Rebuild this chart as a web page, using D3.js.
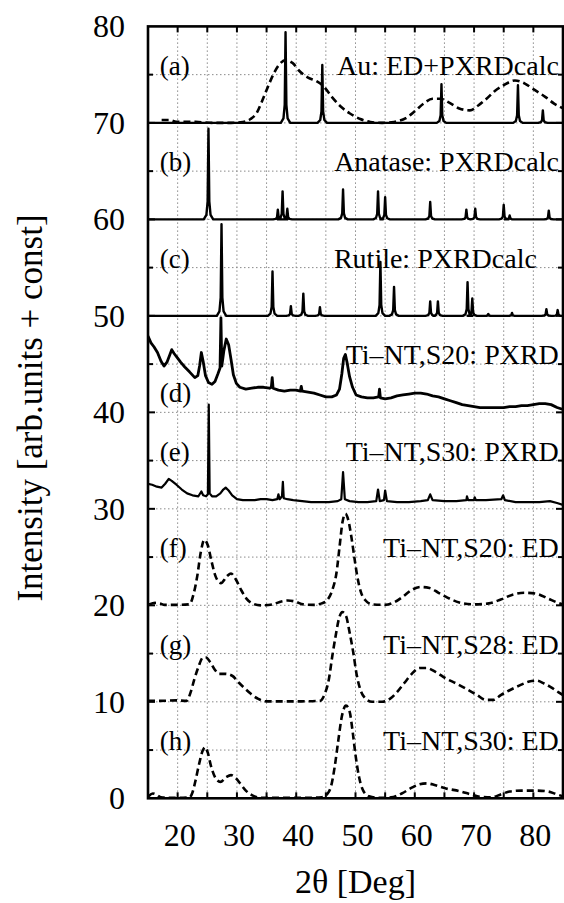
<!DOCTYPE html>
<html><head><meta charset="utf-8">
<script src="https://cdn.jsdelivr.net/npm/d3@7/dist/d3.min.js"></script>
<style>body{margin:0;background:#fff}svg{display:block}text{font-family:"Liberation Serif","Times New Roman",serif;fill:#000}</style>
</head><body>
<script>
// ---- data ----
const xTickLabels = [20, 30, 40, 50, 60, 70, 80];
const yTickLabels = [0, 10, 20, 30, 40, 50, 60, 70, 80];
const xGrid = [20,25,30,35,40,45,50,55,60,65,70,75,80];
const yGrid = [5,10,15,20,25,30,35,40,45,50,55,60,65,70,75];

const auCalcBase = 70;
const auCalcPeaks = [[38.2,9.4],[44.4,6.0],[64.5,4.0],[77.4,3.9],[81.6,1.3]];
const anataseBase = 60;
const anatasePeaks = [[25.2,9.4],[36.9,1.0],[37.7,2.9],[38.5,1.1],[47.9,3.1],[53.8,2.9],[55.0,2.3],[62.6,1.8],[68.7,1.0],[70.2,1.1],[75.0,1.5],[76.0,0.4],[82.6,0.9]];
const rutileBase = 50;
const rutilePeaks = [[27.4,9.5],[36.0,4.6],[39.1,1.0],[41.2,2.3],[44.0,0.9],[54.2,5.6],[56.5,3.0],[62.6,1.5],[63.9,1.5],[68.9,3.5],[69.7,1.8],[72.4,0.2],[76.4,0.3],[82.2,0.7],[84.1,0.6]];

const auED = [[17.3,70.3],[18.5,70.3],[20,70.1],[23,70.1],[26,70.0],[29,70.0],[31,70.1],[32.3,70.4],[33.3,71.0],[34.2,72.2],[35.2,73.7],[36.2,75.1],[37.2,76.1],[38.3,76.5],[39.4,76.2],[40.5,75.4],[42.0,74.7],[43.5,74.3],[44.6,73.8],[46,72.7],[47.5,71.7],[49,71.0],[50.8,70.4],[52.5,70.1],[54.5,70.0],[56.5,70.1],[58.5,70.5],[60,71.2],[61.5,72.0],[63,72.5],[64.3,72.5],[65.8,72.1],[67.5,71.5],[69.3,71.3],[70.7,71.8],[72.1,72.5],[73.5,73.3],[75,73.9],[76.9,74.4],[78.5,74.1],[80,73.5],[82,72.7],[83.5,72.0],[85,71.5]];

const s20PXRD = [[15,47.9],[15.5,47.2],[16,46.8],[16.6,46.2],[17.2,45.3],[17.7,44.8],[18.2,45.2],[18.7,46.0],[19.0,46.5],[19.4,46.1],[19.9,45.7],[20.5,45.2],[21.2,44.7],[22.0,44.2],[22.9,43.6],[23.4,43.8],[23.7,44.8],[24.0,46.2],[24.3,45.3],[24.7,43.8],[25.2,43.1],[25.8,42.9],[26.3,43.2],[26.8,44.0],[27.15,44.6],[27.3,49.8],[27.45,44.8],[27.8,46.4],[28.2,47.6],[28.6,47.0],[29.0,45.5],[29.4,43.9],[29.9,43.0],[30.5,42.6],[31.5,42.4],[32.5,42.5],[33.5,42.6],[34.5,42.6],[35.5,42.5],[35.8,42.6],[35.95,43.6],[36.1,42.5],[37,42.3],[38,42.2],[39,42.3],[40,42.3],[40.7,42.2],[40.85,42.7],[41,42.2],[42,42.1],[43,42.0],[44,41.8],[45,41.6],[46,41.6],[46.8,41.8],[47.3,42.4],[47.7,44.0],[48.0,45.6],[48.3,46.0],[48.6,45.1],[49.0,43.7],[49.5,42.6],[50.1,41.8],[51,41.6],[52,41.5],[53,41.5],[53.9,41.6],[54.05,42.4],[54.2,41.5],[55,41.4],[56,41.5],[57,41.7],[58,41.8],[59,41.9],[60,42.0],[61,42.0],[62,41.9],[63,41.7],[64,41.6],[65,41.4],[66,41.2],[67,41.0],[68,40.8],[69,40.7],[70,40.6],[71,40.5],[72,40.5],[73,40.5],[74,40.5],[75,40.5],[76,40.6],[77,40.6],[78,40.7],[79,40.7],[80,40.8],[81,40.9],[82,40.9],[83,40.8],[84,40.5],[85,40.3]];

const s30PXRD = [[15,32.6],[15.7,32.5],[16.5,32.3],[17.3,32.2],[17.9,32.6],[18.5,33.1],[19.0,32.9],[19.8,32.5],[20.7,32.0],[21.6,31.6],[22.5,31.4],[23.5,31.3],[24.0,31.8],[24.3,31.4],[24.8,31.3],[25.1,31.5],[25.25,40.8],[25.4,31.6],[25.8,31.3],[26.5,31.3],[27.2,31.6],[27.7,32.0],[28.1,32.2],[28.6,31.9],[29.2,31.4],[30,31.0],[31,30.9],[32,30.9],[33,30.9],[34,31.0],[35,31.0],[36,30.9],[36.8,31.0],[37.0,31.5],[37.2,31.0],[37.6,31.3],[37.75,32.8],[37.9,31.1],[38.5,31.0],[39.5,30.9],[41,30.8],[42.5,30.7],[44,30.7],[45.5,30.7],[47,30.8],[47.6,31.0],[47.9,33.8],[48.2,31.0],[49,30.8],[50.5,30.7],[52,30.7],[53.5,30.8],[53.8,32.0],[54.1,30.8],[54.8,30.9],[55.0,31.9],[55.3,30.8],[57,30.7],[59,30.7],[61,30.8],[62.2,30.9],[62.6,31.5],[63,30.9],[65,30.8],[67,30.8],[68.7,30.9],[68.8,31.3],[69,30.9],[70,30.9],[70.1,31.2],[70.3,30.9],[72,30.9],[74.6,31.0],[74.9,31.4],[75.2,30.9],[77,30.7],[79,30.7],[81,30.7],[82.8,30.8],[84,30.6],[85,30.4]];

const s20ED = [[15.2,20.1],[16.2,20.25],[17,20.2],[17.8,20.05],[20,20.05],[22,20.1],[22.7,21.2],[23.3,23.0],[23.9,25.5],[24.5,26.8],[25.1,26.2],[25.7,24.6],[26.4,23.0],[27.3,22.3],[28.3,23.0],[29.0,23.3],[29.8,22.7],[30.7,21.6],[31.6,20.7],[32.6,20.2],[34,20.0],[36,20.1],[37.5,20.4],[38.6,20.5],[39.8,20.4],[41.2,20.1],[43,20.05],[44.3,20.2],[45.3,20.6],[46.1,21.6],[46.8,23.4],[47.3,26.0],[47.8,28.6],[48.3,29.5],[48.8,28.8],[49.3,27.1],[49.8,25.0],[50.3,23.0],[50.9,21.4],[51.7,20.5],[52.8,20.1],[55,20.05],[56.5,20.3],[58,20.9],[59.5,21.6],[61,21.9],[62.5,21.8],[64,21.3],[65.5,20.8],[67.5,20.3],[70,20.1],[72.5,20.2],[74.5,20.6],[76.5,21.1],[78.5,21.3],[80.5,21.2],[82.5,20.7],[84,20.3],[85,20.1]];

const s28ED = [[15,10.1],[17,10.1],[19.8,10.15],[21.5,10.1],[22.2,11.0],[22.8,12.3],[23.5,13.6],[24.3,14.6],[24.8,14.6],[25.5,14.1],[26.3,13.3],[27,12.9],[28,12.9],[29.2,12.7],[30.3,12.0],[31.3,11.4],[32.4,10.8],[33.6,10.3],[35,10.05],[38,10.05],[41,10.05],[44,10.1],[44.8,10.8],[45.5,12.3],[46.1,14.8],[46.7,17.0],[47.2,18.6],[47.8,19.3],[48.4,18.9],[49.0,17.2],[49.6,15.2],[50.2,12.8],[50.8,11.3],[51.6,10.4],[52.8,10.0],[54.5,10.0],[55.8,10.3],[57,11.0],[58.3,12.0],[59.5,12.9],[60.8,13.5],[62,13.5],[63.5,13.1],[65.3,12.4],[67,11.9],[68.8,11.3],[70.5,10.7],[72,10.2],[73.3,10.2],[74.5,10.7],[76,11.2],[77.7,11.7],[79.3,12.1],[80.5,12.2],[81.8,11.9],[83,11.5],[84.2,11.0],[85,10.7]];

const s30ED = [[15.1,0.2],[15.8,0.5],[16.5,0.35],[17.2,0.1],[19,0.05],[22,0.1],[22.5,0.6],[23.0,1.8],[23.6,3.5],[24.2,4.9],[24.6,5.3],[25.1,4.7],[25.6,3.4],[26.3,2.2],[27.2,1.7],[28.2,2.2],[29.0,2.4],[29.8,2.1],[30.6,1.5],[31.5,0.8],[32.6,0.3],[34,0.05],[38,0.05],[42,0.05],[44.3,0.1],[45.3,0.5],[45.9,1.3],[46.5,3.3],[47.1,6.0],[47.7,8.5],[48.4,9.6],[49.0,9.0],[49.5,7.0],[50.0,4.5],[50.6,2.2],[51.3,0.8],[52.3,0.2],[54,0.05],[56,0.1],[57.8,0.5],[59.5,1.1],[60.8,1.45],[62,1.55],[63.5,1.35],[65.4,1.0],[67.5,0.75],[69.5,0.4],[71,0.15],[73,0.1],[74.5,0.4],[76,0.7],[78,0.8],[80.5,0.8],[82.5,0.7],[84,0.4],[85,0.2]];

const seriesNames = ["Au: ED+PXRDcalc","Anatase: PXRDcalc","Rutile: PXRDcalc","Ti\u2013NT,S20: PXRD","Ti\u2013NT,S30: PXRD","Ti\u2013NT,S20: ED","Ti\u2013NT,S28: ED","Ti\u2013NT,S30: ED"];
const nameY = [75,65,55,45,35,25,15,5];
const nameX = [84.3,84.3,80.6,84.3,84.3,84.3,84.3,84.3];
const panelTags = ["(a)","(b)","(c)","(d)","(e)","(f)","(g)","(h)"];
const tagY = [75,65,55,41.1,35,25,15,5];
const tagX = 17.0;
const xTitle = "2\u03b8 [Deg]";
const yTitle = "Intensity [arb.units + const]";

// ---- layout ----
const W = 564, H = 903;
const L = 148, R = 563, T = 26.4, B = 798.3;
const x = d3.scaleLinear().domain([15, 85]).range([L, R]);
const y = d3.scaleLinear().domain([0, 80]).range([B, T]);

const svg = d3.select("body").append("svg").attr("width", W).attr("height", H);

// grid
const g = svg.append("g");
g.selectAll(".gx").data(xGrid).join("line")
  .attr("x1", d => x(d)).attr("x2", d => x(d)).attr("y1", T).attr("y2", B)
  .attr("stroke", "#8a8a8a").attr("stroke-width", 1).attr("stroke-dasharray", "1.5,2.5");
g.selectAll(".gy").data(yGrid).join("line")
  .attr("y1", d => y(d)).attr("y2", d => y(d)).attr("x1", L).attr("x2", R)
  .attr("stroke", "#8a8a8a").attr("stroke-width", 1).attr("stroke-dasharray", "1.5,2.5");

const plot = svg.append("g");
svg.append("clipPath").attr("id", "clip").append("rect")
  .attr("x", L).attr("y", T).attr("width", R - L).attr("height", B - T);
plot.attr("clip-path", "url(#clip)");

const line = d3.line().x(d => x(d[0])).y(d => y(d[1]));
const smooth = d3.line().x(d => x(d[0])).y(d => y(d[1])).curve(d3.curveMonotoneX);

function stickSeries(base, peaks) {
  const pts = [[15, base]];
  peaks.forEach(([p, h]) => {
    pts.push([p - 0.8, base], [p - 0.35, base + h * 0.05], [p - 0.14, base + h * 0.2], [p, base + h],
             [p + 0.14, base + h * 0.2], [p + 0.35, base + h * 0.05], [p + 0.8, base]);
  });
  pts.push([85, base]);
  return pts;
}

[[auCalcBase, auCalcPeaks], [anataseBase, anatasePeaks], [rutileBase, rutilePeaks]].forEach(([b, pk]) => {
  plot.append("path").attr("d", line(stickSeries(b, pk)))
    .attr("fill", "none").attr("stroke", "#000").attr("stroke-width", 2.4).attr("stroke-linejoin", "round");
});

[auED, s20ED, s28ED, s30ED].forEach(s => {
  plot.append("path").attr("d", smooth(s))
    .attr("fill", "none").attr("stroke", "#000").attr("stroke-width", 2.6).attr("stroke-dasharray", "7,4");
});

plot.append("path").attr("d", line(s20PXRD)).attr("fill", "none").attr("stroke", "#000")
  .attr("stroke-width", 2.8).attr("stroke-linejoin", "round");
plot.append("path").attr("d", line(s30PXRD)).attr("fill", "none").attr("stroke", "#000")
  .attr("stroke-width", 2.2).attr("stroke-linejoin", "round");

// frame and ticks
const tk = svg.append("g").attr("stroke", "#000").attr("stroke-width", 2);
xGrid.forEach(v => {
  tk.append("line").attr("x1", x(v)).attr("x2", x(v)).attr("y1", B).attr("y2", B - 6);
  tk.append("line").attr("x1", x(v)).attr("x2", x(v)).attr("y1", T).attr("y2", T + 6);
});
yGrid.forEach(v => {
  const len = v % 10 === 0 ? 7 : 5;
  tk.append("line").attr("y1", y(v)).attr("y2", y(v)).attr("x1", L).attr("x2", L + len);
  tk.append("line").attr("y1", y(v)).attr("y2", y(v)).attr("x1", R).attr("x2", R - len);
});
svg.append("rect").attr("x", L).attr("y", T).attr("width", R - L).attr("height", B - T)
  .attr("fill", "none").attr("stroke", "#000").attr("stroke-width", 2.6);

// tick labels
svg.selectAll(".xl").data(xTickLabels).join("text")
  .attr("x", d => x(d) + 2).attr("y", B + 48).attr("text-anchor", "middle")
  .attr("font-size", 32).text(d => d);
svg.selectAll(".yl").data(yTickLabels).join("text")
  .attr("x", 125).attr("y", d => y(d) + 11).attr("text-anchor", "end")
  .attr("font-size", 32).text(d => d);

// series labels
svg.selectAll(".sn").data(seriesNames).join("text")
  .attr("x", (d, i) => x(nameX[i])).attr("y", (d, i) => y(nameY[i]))
  .attr("text-anchor", "end").attr("font-size", 28).text(d => d);
svg.selectAll(".tg").data(panelTags).join("text")
  .attr("x", x(tagX)).attr("y", (d, i) => y(tagY[i]))
  .attr("font-size", 27).text(d => d);

// axis titles
svg.append("text").attr("x", (L + R) / 2).attr("y", 893).attr("text-anchor", "middle")
  .attr("font-size", 34).text(xTitle);
svg.append("text").attr("transform", "translate(42,408) rotate(-90)").attr("text-anchor", "middle")
  .attr("font-size", 35).text(yTitle);
</script>
</body></html>
